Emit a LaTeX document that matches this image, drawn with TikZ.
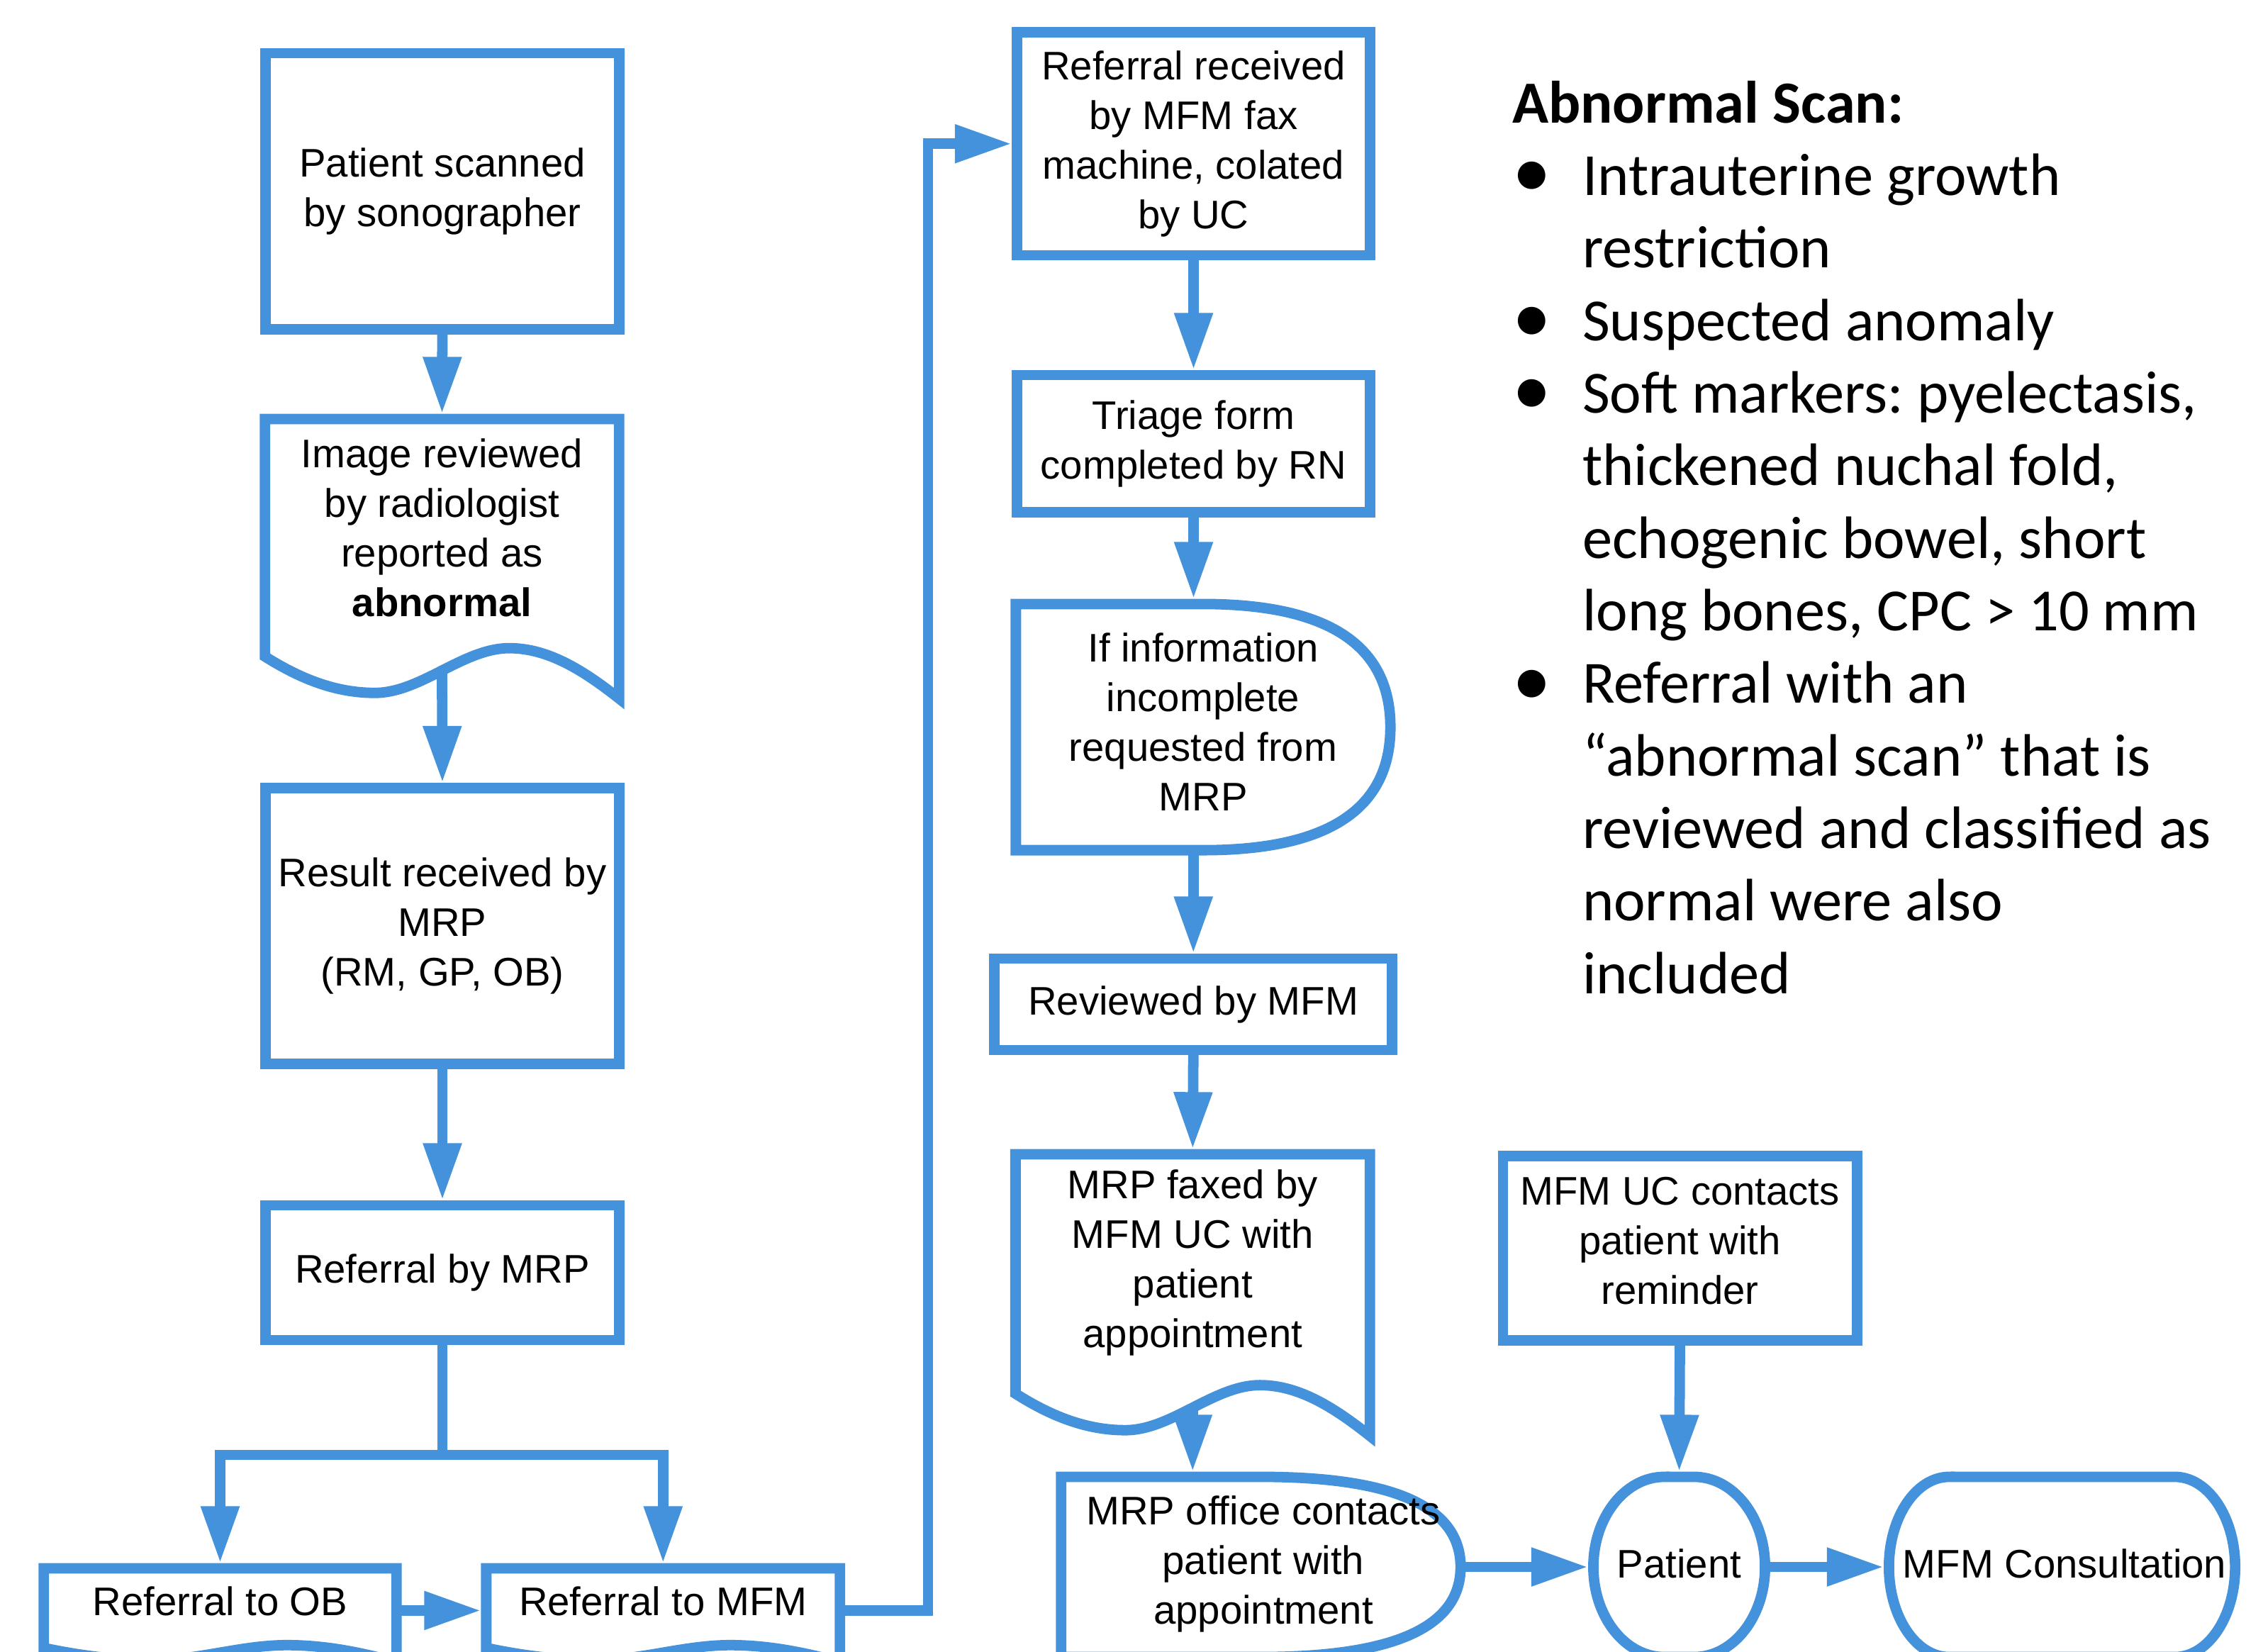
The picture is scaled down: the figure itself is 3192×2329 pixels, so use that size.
\documentclass[tikz,border=0pt]{standalone}
\usepackage{fontspec}
\setmainfont{Liberation Sans}
\newfontfamily\calibri{Carlito}
\usetikzlibrary{arrows.meta,calc}
\definecolor{flow}{HTML}{4492DB}
% document shape outline: node, width (cm), full height (cm)
\newcommand\docline[3]{%
  \draw[shapeline, shift={(#1.north west)}, x=#2cm, y=-#3cm]
    (0,0.85) -- (0,0) -- (1,0) -- (1,1)
    .. controls (0.9,0.9) and (0.8,0.82) .. (0.69,0.82)
    .. controls (0.56,0.82) and (0.44,0.98) .. (0.31,0.98)
    .. controls (0.2,0.98) and (0.1,0.93) .. (0,0.85) -- cycle;}
% delay shape outline
\newcommand\delayline[1]{%
  \draw[shapeline] (#1.north west) -- (#1.north)
    .. controls ($(#1.north)!2/3!(#1.north east)$) and ($(#1.east)!2/3!(#1.north east)$) .. (#1.east)
    .. controls ($(#1.east)!2/3!(#1.south east)$) and ($(#1.south)!2/3!(#1.south east)$) .. (#1.south)
    -- (#1.south west) -- cycle;}
% terminator outline: node, horizontal corner radius (cm)
\newcommand\termline[2]{%
  \draw[shapeline] ([xshift=#2cm]#1.north west) -- ([xshift=-#2cm]#1.north east)
    arc[start angle=90, end angle=-90, x radius=#2cm, y radius=1.27cm]
    -- ([xshift=#2cm]#1.south west)
    arc[start angle=270, end angle=90, x radius=#2cm, y radius=1.27cm] -- cycle;}
\newcommand\bul{\makebox[28.2pt][l]{\smash{\raisebox{-0.04em}{\scalebox{1.3}{•}}}}}
\begin{document}
\begin{tikzpicture}[x=0.01cm, y=-0.01cm,
  dfont/.style={font=\fontsize{16}{19.9}\selectfont},
  shapeline/.style={draw=flow, line width=4.2pt, line join=miter},
  box/.style={shapeline, dfont, align=center, inner sep=0pt, outer sep=0pt},
  holder/.style={draw=none, dfont, align=center, inner sep=0pt, outer sep=0pt},
  txt/.style={dfont, align=center, inner sep=0pt, outer sep=0pt},
  conn/.style={draw=flow, line width=4.2pt},
  arr/.style={conn, -{Triangle[length=22.8pt, width=14.5pt]}, shorten >=2.1pt}]
\useasboundingbox (0,0) rectangle (3192,2329);
\clip (0,0) rectangle (3192,2329);

% left column
\node[box, minimum width=4.99cm, minimum height=3.89cm] (A) at (624,269.5)
  {Patient scanned\\by sonographer};
\node[holder, minimum width=4.99cm, minimum height=3.546cm] (B) at (623.5,768.3) {};
\docline{B}{4.99}{3.94}
\node[txt] (Bt) at (623.5,744) {Image reviewed\\by radiologist\\reported as\\\textbf{abnormal}};
\node[box, minimum width=4.99cm, minimum height=3.89cm] (C) at (624,1306)
  {Result received by\\MRP\\(RM, GP, OB)};
\node[box, minimum width=4.99cm, minimum height=1.90cm] (D) at (624,1795) {Referral by MRP};
\coordinate (br) at (624,2052);
\node[holder, minimum width=4.97cm, minimum height=1.188cm] (E) at (310.5,2271.4) {};
\docline{E}{4.97}{1.32}
\node[txt] (Et) at (310.5,2258) {Referral to OB};
\node[holder, minimum width=4.985cm, minimum height=1.188cm] (F) at (935.25,2271.4) {};
\docline{F}{4.985}{1.32}
\node[txt] (Ft) at (935.25,2258) {Referral to MFM};
\coordinate (turn) at (1309,1000);

% middle column
\node[box, minimum width=4.98cm, minimum height=3.145cm] (G) at (1683.5,202.75)
  {Referral received\\by MFM fax\\machine, colated\\by UC};
\node[box, minimum width=4.98cm, minimum height=1.935cm] (H) at (1683.5,625.75)
  {Triage form\\completed by RN};
\node[holder, minimum width=5.28cm, minimum height=3.47cm] (I) at (1697,1025.5) {};
\delayline{I}
\node[txt] (It) at (1697,1018) {If information\\incomplete\\requested from\\MRP};
\node[box, minimum width=5.605cm, minimum height=1.29cm] (J) at (1683.25,1416.5) {Reviewed by MFM};
\node[holder, minimum width=4.995cm, minimum height=3.573cm] (K) at (1682.25,1806.6) {};
\docline{K}{4.995}{3.97}
\node[txt] (Kt) at (1682.25,1781) {MRP faxed by\\MFM UC with\\patient\\appointment};
\node[holder, minimum width=5.63cm, minimum height=2.54cm] (L) at (1778.5,2210) {};
\delayline{L}
\node[txt] (Lt) at (1782,2206) {MRP office contacts\\patient with\\appointment};

% right part
\node[box, minimum width=4.99cm, minimum height=2.595cm] (M) at (2369.5,1760.25) {};
\node[txt] (Mt) at (2369.5,1750) {MFM UC contacts\\patient with\\reminder};
\node[holder, minimum width=2.42cm, minimum height=2.54cm] (N) at (2368.5,2210) {};
\termline{N}{1.0}
\node[txt] (Nt) at (2368.5,2205) {Patient};
\node[holder, minimum width=4.88cm, minimum height=2.54cm] (O) at (2908.5,2210) {};
\termline{O}{0.85}
\node[txt] (Ot) at (2912,2205) {MFM Consultation};

% connectors
\draw[arr] (A.south) -- (B.north);
\draw[arr] (B.south) -- (C.north);
\draw[arr] (C.south) -- (D.north);
\draw[conn] (D.south) -- (br);
\draw[arr] (br) -| (E.north);
\draw[arr] (br) -| (F.north);
\draw[arr] (E.east) -- (F.west);
\draw[arr] (F.east) -| (turn) |- (G.west);
\draw[arr] (G.south) -- (H.north);
\draw[arr] (H.south) -- (H.south |- I.north);
\draw[arr] (J.north |- I.south) -- (J.north);
\draw[arr] (J.south) -- (K.north);
\draw[arr] (K.south) -- (K.south |- L.north);
\draw[arr] (M.south) -- (N.north);
\draw[arr] (L.east) -- (N.west);
\draw[arr] (N.east) -- (O.west);

% list
\node[anchor=base west, inner sep=0pt, outer sep=0pt, font=\calibri\fontsize{24}{29.1}\selectfont\frenchspacing] (list) at (2133,173)
{\begin{tabular}[t]{@{}l@{}l@{}}
\multicolumn{2}{@{}l@{}}{\bfseries Abnormal Scan:}\\
\bul & Intrauterine growth\\
 & restriction\\
\bul & Suspected anomaly\\
\bul & Soft markers: pyelectasis,\\
 & thickened nuchal fold,\\
 & echogenic bowel, short\\
 & long bones, CPC > 10 mm\\
\bul & Referral with an\\
 & “abnormal scan” that is\\
 & reviewed and classified as\\
 & normal were also\\
 & included
\end{tabular}};
\end{tikzpicture}
\end{document}
